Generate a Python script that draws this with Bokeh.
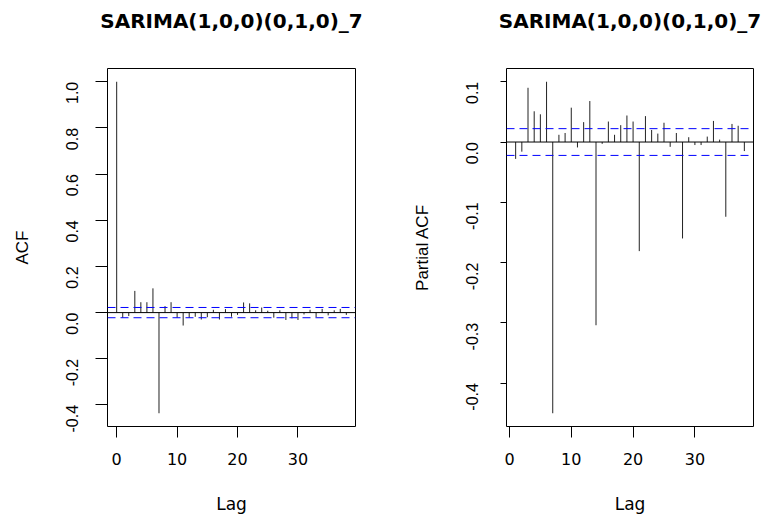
import math
from bokeh.plotting import figure
from bokeh.layouts import row
from bokeh.models import FixedTicker, PrintfTickFormatter, LinearAxis, Span
from bokeh.embed import file_html
from bokeh.resources import INLINE

title_text = "SARIMA(1,0,0)(0,1,0)_7"

acf_lags = list(range(0, 39))
acf_vals = [1.0, -0.022, -0.015, 0.094, 0.045, 0.045, 0.105, -0.436, 0.028, 0.045,
            -0.022, -0.056, -0.022, -0.018, -0.03, -0.02, 0.012, -0.03, 0.015, -0.018,
            -0.01, 0.044, 0.04, 0.01, 0.022, 0.008, -0.022, 0.01, -0.032, -0.025,
            -0.032, -0.008, 0.012, -0.02, 0.016, -0.012, 0.01, 0.016, -0.01]

pacf_lags = list(range(1, 39))
pacf_vals = [-0.028, -0.016, 0.09, 0.051, 0.046, 0.1, -0.45, 0.012, 0.015, 0.057,
             -0.009, 0.033, 0.068, -0.304, -0.003, 0.034, 0.012, 0.028, 0.044, 0.034,
             -0.181, 0.043, 0.02, 0.014, 0.032, -0.008, 0.015, -0.16, 0.008, -0.005,
             -0.005, 0.009, 0.035, 0.004, -0.124, 0.03, 0.027, -0.015]

clim = 0.0222

x_ticks = [0, 10, 20, 30]
acf_yticks = [-0.4, -0.2, 0.0, 0.2, 0.4, 0.6, 0.8, 1.0]
pacf_yticks = [-0.4, -0.3, -0.2, -0.1, 0.0, 0.1]


def rng(vals, pad=0.04):
    lo, hi = min(vals), max(vals)
    d = (hi - lo) * pad
    return lo - d, hi + d


def make(lags, vals, ylabel, yticks, width, bl, br, tick_len, tick_standoff):
    xlo, xhi = rng(lags)
    ylo, yhi = rng(vals + [clim, -clim])
    p = figure(width=width, height=516, output_backend="svg", toolbar_location=None,
               x_range=(xlo, xhi), y_range=(ylo, yhi),
               min_border_left=bl, min_border_right=br, min_border_top=68,
               min_border_bottom=89)
    p.title.visible = False

    top = LinearAxis(ticker=FixedTicker(ticks=[]), axis_line_color=None,
                     major_tick_line_color=None, minor_tick_line_color=None,
                     major_tick_out=0, major_tick_in=0, major_label_standoff=0,
                     axis_label=title_text, axis_label_text_font="DejaVu Sans",
                     axis_label_text_font_style="bold", axis_label_text_font_size="20px",
                     axis_label_text_color="black", axis_label_standoff=36)
    p.add_layout(top, "above")

    p.xgrid.visible = False
    p.ygrid.visible = False
    p.outline_line_color = "black"
    p.outline_line_width = 1
    p.outline_line_alpha = 1
    p.background_fill_color = "white"
    p.border_fill_color = "white"

    p.segment(x0=lags, y0=[0] * len(lags), x1=lags, y1=vals, line_color="#222222", line_width=1)
    p.add_layout(Span(location=0, dimension="width", line_color="black", line_width=1))
    for c in (clim, -clim):
        p.add_layout(Span(location=c, dimension="width", line_color="blue",
                          line_width=1, line_dash="8 5"))

    xa = p.below[0]
    xa.ticker = FixedTicker(ticks=x_ticks)
    xa.formatter = PrintfTickFormatter(format="%d")
    xa.axis_line_color = None
    xa.major_tick_out = 11
    xa.major_tick_in = 0
    xa.minor_tick_line_color = None
    xa.major_tick_line_color = "black"
    xa.major_label_standoff = 15
    xa.major_label_text_font = "DejaVu Sans"
    xa.major_label_text_font_size = "16px"
    xa.major_label_text_color = "black"
    xa.axis_label = "Lag"
    xa.axis_label_text_font = "DejaVu Sans"
    xa.axis_label_text_font_size = "17px"
    xa.axis_label_text_font_style = "normal"
    xa.axis_label_text_color = "black"
    xa.axis_label_standoff = 26

    ya = p.yaxis[0]
    ya.ticker = FixedTicker(ticks=yticks)
    ya.formatter = PrintfTickFormatter(format="%.1f")
    ya.axis_line_color = None
    ya.major_tick_out = tick_len
    ya.major_tick_in = 0
    ya.minor_tick_line_color = None
    ya.major_tick_line_color = "black"
    ya.major_label_orientation = math.pi / 2
    ya.major_label_standoff = tick_standoff
    ya.major_label_text_font = "Liberation Sans"
    ya.major_label_text_font_size = "16px"
    ya.major_label_text_color = "black"
    ya.axis_label = ylabel
    ya.axis_label_text_font = "Liberation Sans"
    ya.axis_label_text_font_size = "17px"
    ya.axis_label_text_font_style = "normal"
    ya.axis_label_text_color = "black"
    ya.axis_label_standoff = 26
    return p


p1 = make(acf_lags, acf_vals, "ACF", acf_yticks, 388, 107, 33, 12, 23)
p2 = make(pacf_lags, pacf_vals, "Partial ACF", pacf_yticks, 376, 118, 11, 6, 28)

layout = row(p1, p2)
open("out.html", "w").write(file_html(layout, INLINE))
